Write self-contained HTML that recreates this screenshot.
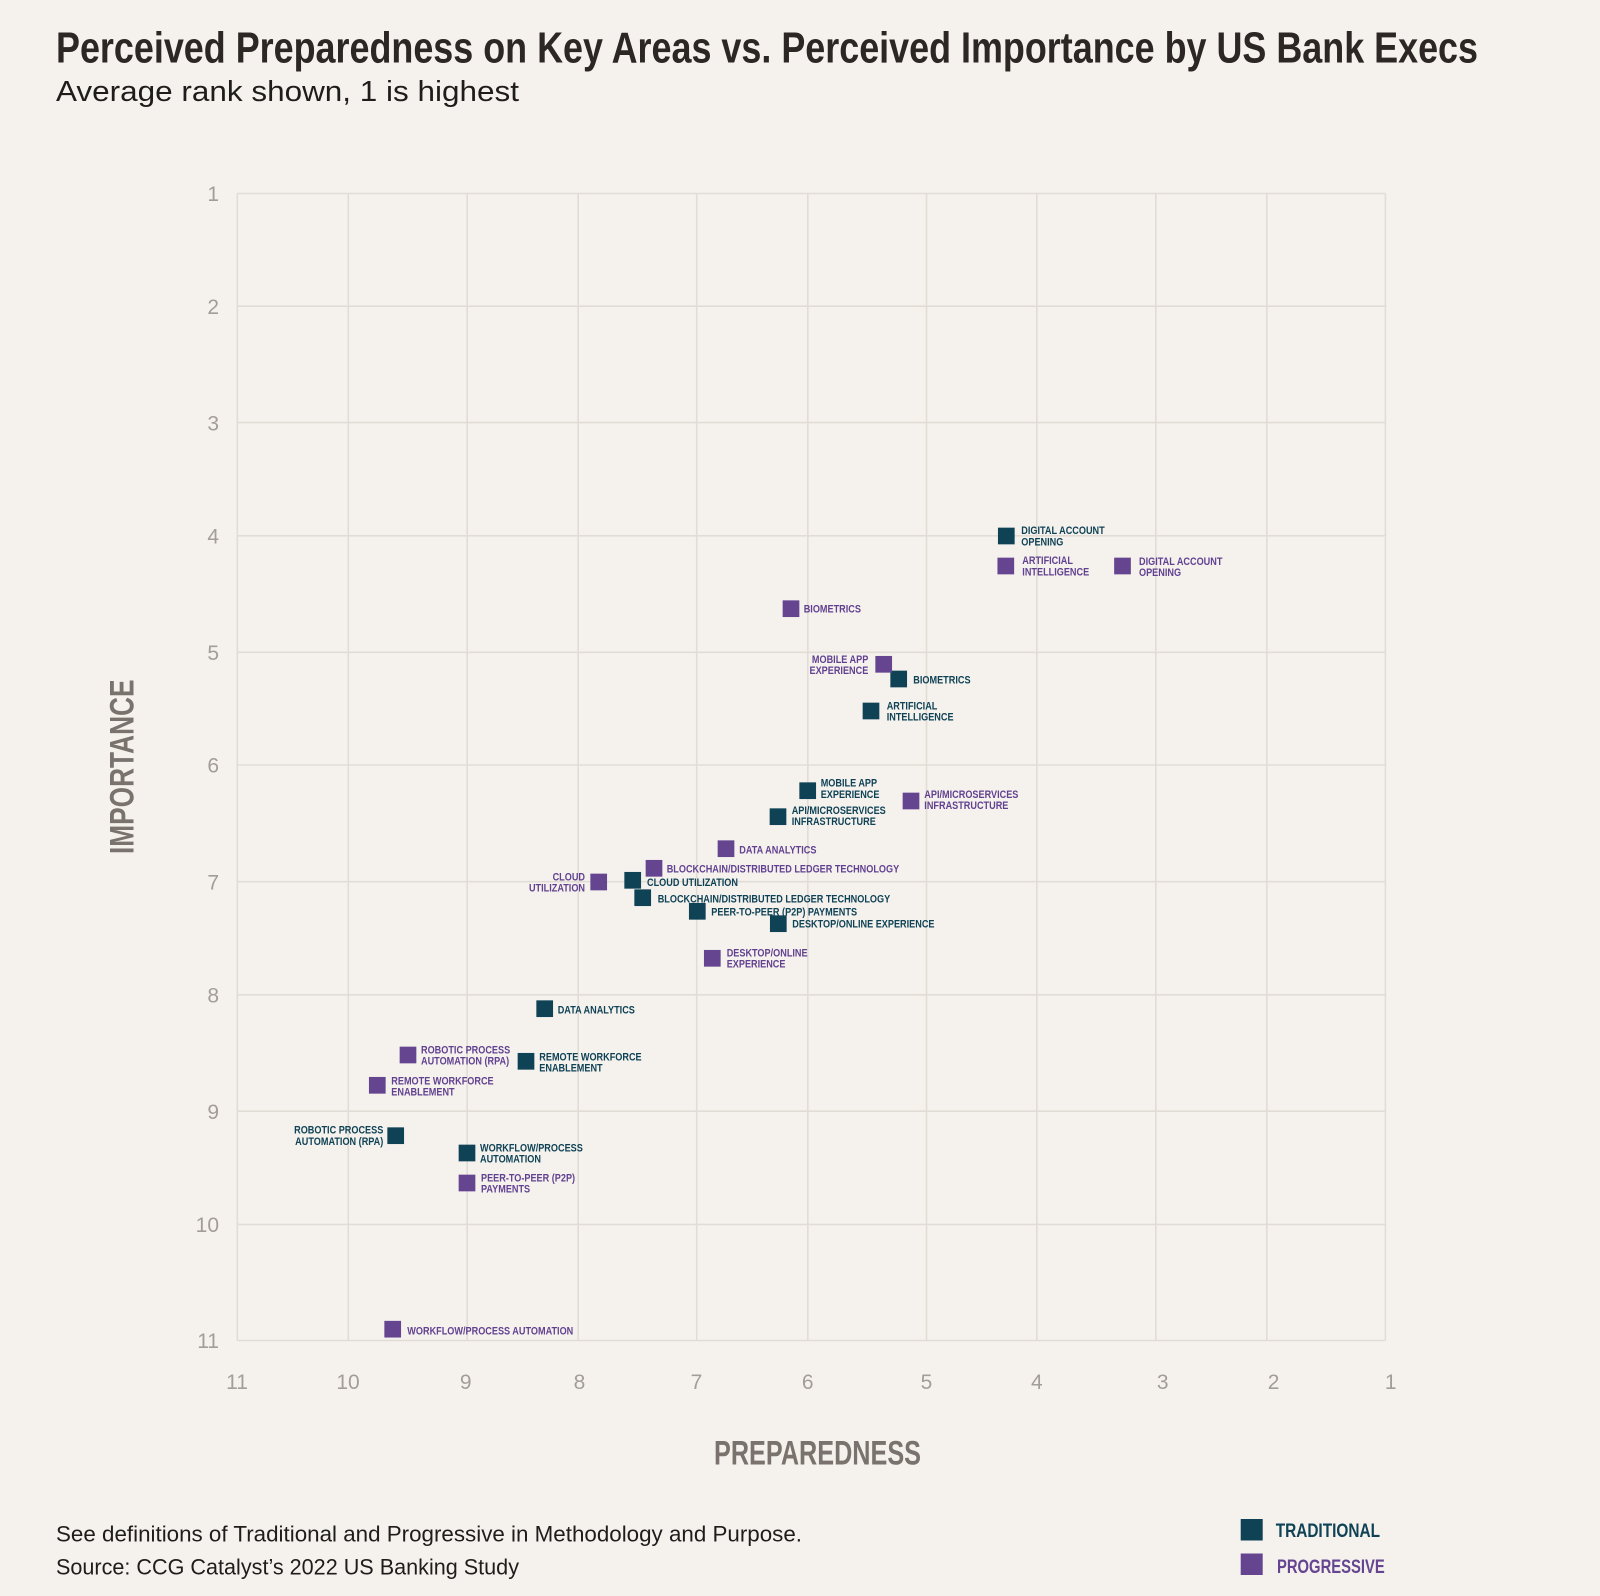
<!DOCTYPE html>
<html><head><meta charset="utf-8">
<style>
html,body{margin:0;padding:0;background:#f5f2ee;}
svg{display:block;}
text{font-family:"Liberation Sans",sans-serif;}
.lt text{font-size:11px;font-weight:bold;fill:#0f4255;}
.lp text{font-size:11px;font-weight:bold;fill:#624190;}
.yt{font-size:21px;fill:#a39d97;text-anchor:end;}
.xt{font-size:21px;fill:#a39d97;text-anchor:middle;}
</style></head>
<body>
<svg width="1600" height="1596" viewBox="0 0 1600 1596" xmlns="http://www.w3.org/2000/svg">
<rect x="0" y="0" width="1600" height="1596" fill="#f5f2ee"/>

<text x="56" y="62.5" font-size="44" font-weight="bold" fill="#2c2724" textLength="1422" lengthAdjust="spacingAndGlyphs">Perceived Preparedness on Key Areas vs. Perceived Importance by US Bank Execs</text>
<text x="56" y="101" font-size="29" fill="#1f1d1b" textLength="463" lengthAdjust="spacingAndGlyphs">Average rank shown, 1 is highest</text>

<!-- grid -->
<g stroke="#e1dcd5" stroke-width="1.6" fill="none">
<line x1="237.3" y1="193.5" x2="237.3" y2="1340.5"/>
<line x1="348.3" y1="193.5" x2="348.3" y2="1340.5"/>
<line x1="467.2" y1="193.5" x2="467.2" y2="1340.5"/>
<line x1="578.2" y1="193.5" x2="578.2" y2="1340.5"/>
<line x1="696.7" y1="193.5" x2="696.7" y2="1340.5"/>
<line x1="807.8" y1="193.5" x2="807.8" y2="1340.5"/>
<line x1="926.5" y1="193.5" x2="926.5" y2="1340.5"/>
<line x1="1036.8" y1="193.5" x2="1036.8" y2="1340.5"/>
<line x1="1155.8" y1="193.5" x2="1155.8" y2="1340.5"/>
<line x1="1266.8" y1="193.5" x2="1266.8" y2="1340.5"/>
<line x1="1385.4" y1="193.5" x2="1385.4" y2="1340.5"/>
<line x1="237.3" y1="193.5" x2="1385.4" y2="193.5"/>
<line x1="237.3" y1="306.2" x2="1385.4" y2="306.2"/>
<line x1="237.3" y1="422.6" x2="1385.4" y2="422.6"/>
<line x1="237.3" y1="535.8" x2="1385.4" y2="535.8"/>
<line x1="237.3" y1="652.3" x2="1385.4" y2="652.3"/>
<line x1="237.3" y1="765" x2="1385.4" y2="765"/>
<line x1="237.3" y1="881.7" x2="1385.4" y2="881.7"/>
<line x1="237.3" y1="994.8" x2="1385.4" y2="994.8"/>
<line x1="237.3" y1="1111.2" x2="1385.4" y2="1111.2"/>
<line x1="237.3" y1="1224.4" x2="1385.4" y2="1224.4"/>
<line x1="237.3" y1="1340.5" x2="1385.4" y2="1340.5"/>
</g>

<!-- y ticks -->
<text class="yt" x="219" y="201.2">1</text>
<text class="yt" x="219" y="313.9">2</text>
<text class="yt" x="219" y="430.3">3</text>
<text class="yt" x="219" y="543.5">4</text>
<text class="yt" x="219" y="660">5</text>
<text class="yt" x="219" y="772.7">6</text>
<text class="yt" x="219" y="889.4">7</text>
<text class="yt" x="219" y="1002.5">8</text>
<text class="yt" x="219" y="1118.9">9</text>
<text class="yt" x="219" y="1232.1">10</text>
<text class="yt" x="219" y="1348.2">11</text>

<!-- x ticks -->
<text class="xt" x="237" y="1389">11</text>
<text class="xt" x="348" y="1389">10</text>
<text class="xt" x="465.7" y="1389">9</text>
<text class="xt" x="579.5" y="1389">8</text>
<text class="xt" x="696.5" y="1389">7</text>
<text class="xt" x="807.7" y="1389">6</text>
<text class="xt" x="926.5" y="1389">5</text>
<text class="xt" x="1036.8" y="1389">4</text>
<text class="xt" x="1162.7" y="1389">3</text>
<text class="xt" x="1273.6" y="1389">2</text>
<text class="xt" x="1390.7" y="1389">1</text>

<!-- axis titles -->
<text x="714" y="1464.3" font-size="34" font-weight="bold" fill="#7a736d" textLength="207" lengthAdjust="spacingAndGlyphs">PREPAREDNESS</text>
<text transform="translate(133.5,854) rotate(-90)" font-size="34" font-weight="bold" fill="#7a736d" textLength="174.5" lengthAdjust="spacingAndGlyphs">IMPORTANCE</text>

<!-- traditional markers -->
<g fill="#0f4255">
<rect x="997.95" y="527.65" width="16.7" height="16.7"/>
<rect x="890.35" y="670.65" width="16.7" height="16.7"/>
<rect x="862.65" y="702.65" width="16.7" height="16.7"/>
<rect x="799.35" y="782.35" width="16.7" height="16.7"/>
<rect x="769.65" y="808.35" width="16.7" height="16.7"/>
<rect x="624.35" y="871.95" width="16.7" height="16.7"/>
<rect x="634.35" y="889.35" width="16.7" height="16.7"/>
<rect x="688.95" y="902.95" width="16.7" height="16.7"/>
<rect x="769.95" y="915.35" width="16.7" height="16.7"/>
<rect x="536.35" y="1000.35" width="16.7" height="16.7"/>
<rect x="517.65" y="1052.95" width="16.7" height="16.7"/>
<rect x="387.35" y="1127.35" width="16.7" height="16.7"/>
<rect x="458.65" y="1144.65" width="16.7" height="16.7"/>
</g>
<!-- progressive markers -->
<g fill="#654590">
<rect x="997.45" y="557.65" width="16.7" height="16.7"/>
<rect x="1114.15" y="557.65" width="16.7" height="16.7"/>
<rect x="782.65" y="600.35" width="16.7" height="16.7"/>
<rect x="875.35" y="655.95" width="16.7" height="16.7"/>
<rect x="902.65" y="792.65" width="16.7" height="16.7"/>
<rect x="717.65" y="840.35" width="16.7" height="16.7"/>
<rect x="645.65" y="859.95" width="16.7" height="16.7"/>
<rect x="590.35" y="873.65" width="16.7" height="16.7"/>
<rect x="703.95" y="949.95" width="16.7" height="16.7"/>
<rect x="399.65" y="1046.65" width="16.7" height="16.7"/>
<rect x="368.95" y="1076.95" width="16.7" height="16.7"/>
<rect x="458.65" y="1174.65" width="16.7" height="16.7"/>
<rect x="384.35" y="1320.85" width="16.7" height="16.7"/>
</g>

<!-- traditional labels -->
<g class="lt">
<g transform="translate(1021.3,534) scale(0.83,1)"><text x="0" y="0">DIGITAL ACCOUNT</text><text x="0" y="11.3">OPENING</text></g>
<g transform="translate(913.3,683.3) scale(0.83,1)"><text x="0" y="0">BIOMETRICS</text></g>
<g transform="translate(886.7,709.7) scale(0.83,1)"><text x="0" y="0">ARTIFICIAL</text><text x="0" y="11">INTELLIGENCE</text></g>
<g transform="translate(820.7,786.3) scale(0.83,1)"><text x="0" y="0">MOBILE APP</text><text x="0" y="11.5">EXPERIENCE</text></g>
<g transform="translate(791.7,814) scale(0.83,1)"><text x="0" y="0">API/MICROSERVICES</text><text x="0" y="11">INFRASTRUCTURE</text></g>
<g transform="translate(647,886) scale(0.83,1)"><text x="0" y="0">CLOUD UTILIZATION</text></g>
<g transform="translate(657.7,902.3) scale(0.83,1)"><text x="0" y="0">BLOCKCHAIN/DISTRIBUTED LEDGER TECHNOLOGY</text></g>
<g transform="translate(711.3,915.3) scale(0.83,1)"><text x="0" y="0">PEER-TO-PEER (P2P) PAYMENTS</text></g>
<g transform="translate(792.3,927.7) scale(0.83,1)"><text x="0" y="0">DESKTOP/ONLINE EXPERIENCE</text></g>
<g transform="translate(557.7,1013.7) scale(0.83,1)"><text x="0" y="0">DATA ANALYTICS</text></g>
<g transform="translate(539.3,1060.3) scale(0.83,1)"><text x="0" y="0">REMOTE WORKFORCE</text><text x="0" y="11">ENABLEMENT</text></g>
<g transform="translate(383.3,1133.7) scale(0.83,1)"><text x="0" y="0" text-anchor="end">ROBOTIC PROCESS</text><text x="0" y="11.3" text-anchor="end">AUTOMATION (RPA)</text></g>
<g transform="translate(480,1151.3) scale(0.83,1)"><text x="0" y="0">WORKFLOW/PROCESS</text><text x="0" y="11">AUTOMATION</text></g>
</g>

<!-- progressive labels -->
<g class="lp">
<g transform="translate(1022.3,564) scale(0.83,1)"><text x="0" y="0">ARTIFICIAL</text><text x="0" y="11.7">INTELLIGENCE</text></g>
<g transform="translate(1139,565) scale(0.83,1)"><text x="0" y="0">DIGITAL ACCOUNT</text><text x="0" y="11">OPENING</text></g>
<g transform="translate(803.7,612.7) scale(0.83,1)"><text x="0" y="0">BIOMETRICS</text></g>
<g transform="translate(868.3,663) scale(0.83,1)"><text x="0" y="0" text-anchor="end">MOBILE APP</text><text x="0" y="11" text-anchor="end">EXPERIENCE</text></g>
<g transform="translate(924.3,798) scale(0.83,1)"><text x="0" y="0">API/MICROSERVICES</text><text x="0" y="11">INFRASTRUCTURE</text></g>
<g transform="translate(739.3,853.3) scale(0.83,1)"><text x="0" y="0">DATA ANALYTICS</text></g>
<g transform="translate(666.7,872.7) scale(0.83,1)"><text x="0" y="0">BLOCKCHAIN/DISTRIBUTED LEDGER TECHNOLOGY</text></g>
<g transform="translate(585,880.7) scale(0.83,1)"><text x="0" y="0" text-anchor="end">CLOUD</text><text x="0" y="11" text-anchor="end">UTILIZATION</text></g>
<g transform="translate(726.7,956.7) scale(0.83,1)"><text x="0" y="0">DESKTOP/ONLINE</text><text x="0" y="10.6">EXPERIENCE</text></g>
<g transform="translate(421,1053.3) scale(0.83,1)"><text x="0" y="0">ROBOTIC PROCESS</text><text x="0" y="11.4">AUTOMATION (RPA)</text></g>
<g transform="translate(391.3,1084.7) scale(0.83,1)"><text x="0" y="0">REMOTE WORKFORCE</text><text x="0" y="11">ENABLEMENT</text></g>
<g transform="translate(481,1181.7) scale(0.83,1)"><text x="0" y="0">PEER-TO-PEER (P2P)</text><text x="0" y="10.6">PAYMENTS</text></g>
<g transform="translate(407.3,1334.7) scale(0.83,1)"><text x="0" y="0">WORKFLOW/PROCESS AUTOMATION</text></g>
</g>

<!-- footnotes -->
<text x="56" y="1541.5" font-size="22" fill="#1f1d1b" textLength="746" lengthAdjust="spacingAndGlyphs">See definitions of Traditional and Progressive in Methodology and Purpose.</text>
<text x="56" y="1574.3" font-size="22" fill="#1f1d1b" textLength="463" lengthAdjust="spacingAndGlyphs">Source: CCG Catalyst’s 2022 US Banking Study</text>

<!-- legend -->
<rect x="1240.7" y="1519" width="22" height="21.5" fill="#0f4255"/>
<text x="1275.7" y="1537" font-size="19.5" font-weight="bold" fill="#0f4255" textLength="104.3" lengthAdjust="spacingAndGlyphs">TRADITIONAL</text>
<rect x="1240.7" y="1553.5" width="22" height="21.5" fill="#654590"/>
<text x="1277" y="1573" font-size="19.5" font-weight="bold" fill="#654590" textLength="107.7" lengthAdjust="spacingAndGlyphs">PROGRESSIVE</text>
</svg>
</body></html>
